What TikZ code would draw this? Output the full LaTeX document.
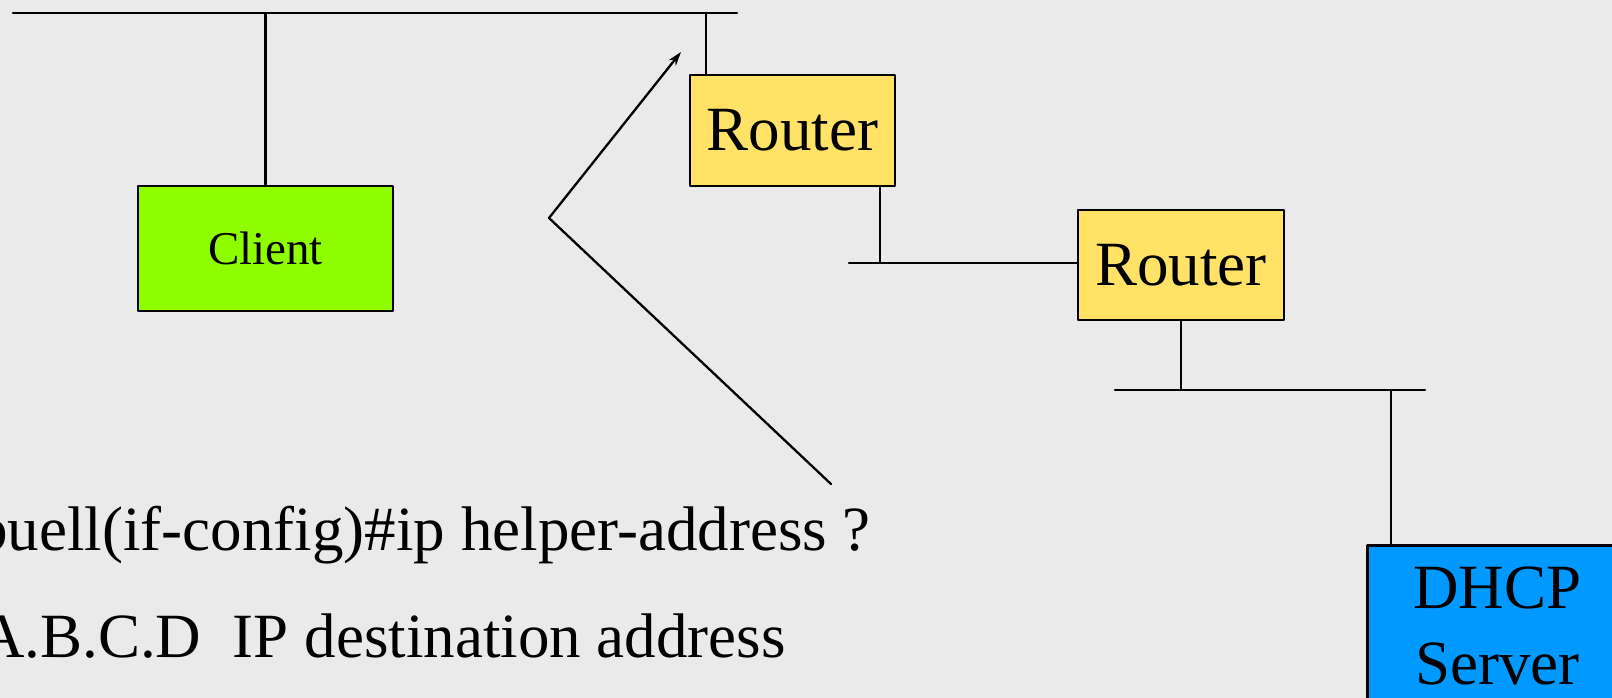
\documentclass[tikz,border=0pt]{standalone}
\usepackage{fontspec}
\setmainfont{Liberation Serif}
\usetikzlibrary{arrows.meta,positioning}
\definecolor{netback}{RGB}{234,234,234}
\definecolor{clientgreen}{RGB}{143,255,0}
\definecolor{routeryellow}{RGB}{255,226,102}
\definecolor{serverblue}{RGB}{0,153,255}
\newcommand{\bigtext}{\fontsize{63}{76}\selectfont}

\begin{document}
\begin{tikzpicture}[x=1pt,y=-1pt,>=Stealth,line cap=round,line join=round,
  wire/.style={line width=2.3pt},
  bus/.style={line width=2.6pt},
  box/.style={draw,line width=2.9pt,inner sep=0pt,align=center},
  routerbox/.style={box,fill=routeryellow,font=\bigtext}]
 \useasboundingbox[fill=netback] (0,0) rectangle (1612,698);
 % hosts and routers
 \node[box,fill=clientgreen,minimum width=255,minimum height=125,
  font=\fontsize{47}{56}\selectfont] (client) at (265.5,248.5) {Client};
 \node[routerbox,minimum width=205,minimum height=111] (router1) at (792.5,130.5) {Router};
 \node[routerbox,minimum width=206,minimum height=110] (router2) at (1181,265) {Router};
 \node[box,fill=serverblue,font=\bigtext,minimum width=260,minimum height=160,
  anchor=north west] (server) at (1366,544) {DHCP\\Server};
 % the three segments
 \coordinate (top1) at (13,13); \coordinate (top2) at (737,13);
 \coordinate (mid1) at (849,263);
 \coordinate (low1) at (1115,390); \coordinate (low2) at (1425,390);
 \draw[bus] (top1) -- (top2);
 \draw[bus] (mid1) -- (mid1 -| router2.west);
 \draw[bus] (low1) -- (low2);
 % drops onto the segments
 \coordinate (r1up) at (706,13);
 \coordinate (r1dn) at (880,263);
 \coordinate (srvup) at (1391,390);
 \draw[wire] (client.north) -- (client.north |- top1);
 \draw[wire] (r1up) -- (r1up |- router1.north);
 \draw[wire] (r1dn |- router1.south) -- (r1dn);
 \draw[wire] (router2.south) -- (router2.south |- low1);
 \draw[wire] (srvup) -- (srvup |- server.north);
 % pointer to the interface
 \coordinate (tail) at (831,484); \coordinate (bend) at (549,218);
 \coordinate (tip) at (681,52);
 \draw[wire,->,>={Stealth[length=14pt,width=9pt]}] (tail) -- (bend) -- (tip);
 % command lines
 \node[font=\bigtext,anchor=base east,inner sep=0pt] (cmd) at (871,550)
  {buell(if-config)\#ip helper-address ?};
 \node[font=\bigtext,anchor=base east,inner sep=0pt] (help) at (786,657)
  {A.B.C.D\ \ IP destination address};
\end{tikzpicture}
\end{document}
